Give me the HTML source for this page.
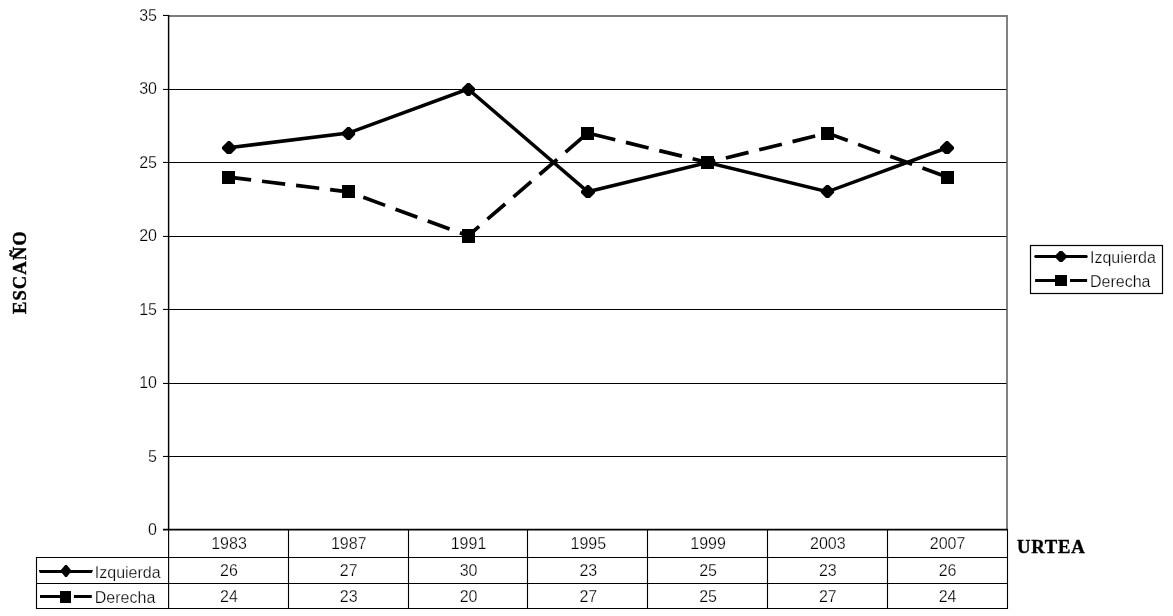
<!DOCTYPE html><html><head><meta charset="utf-8"><title>chart</title><style>html,body{margin:0;padding:0;background:#fff}svg{display:block;filter:grayscale(1)}text{font-family:"Liberation Sans",sans-serif;font-size:16px;fill:#000;stroke:#fff;stroke-width:0.25px}.t{stroke:#000;stroke-width:0.4px;font-family:"Liberation Serif",serif;font-weight:bold;font-size:18.7px}</style></head><body>
<svg width="1173" height="616" viewBox="0 0 1173 616">
<rect width="1173" height="616" fill="#fff"/>
<path d="M168.6 15.95H1007.0V529.5" fill="none" stroke="#7c7c7c" stroke-width="1.9"/>
<line x1="168.6" x2="1006.4" y1="456.47" y2="456.47" stroke="#000" stroke-width="1.1"/>
<line x1="168.6" x2="1006.4" y1="383.47" y2="383.47" stroke="#000" stroke-width="1.1"/>
<line x1="168.6" x2="1006.4" y1="309.47" y2="309.47" stroke="#000" stroke-width="1.1"/>
<line x1="168.6" x2="1006.4" y1="236.47" y2="236.47" stroke="#000" stroke-width="1.1"/>
<line x1="168.6" x2="1006.4" y1="162.47" y2="162.47" stroke="#000" stroke-width="1.1"/>
<line x1="168.6" x2="1006.4" y1="89.47" y2="89.47" stroke="#000" stroke-width="1.1"/>
<line x1="168.6" x2="168.6" y1="15.05" y2="529.5" stroke="#000" stroke-width="1.45"/>
<line x1="163.0" x2="1007.8" y1="529.6" y2="529.6" stroke="#000" stroke-width="1.6"/>
<line x1="163.0" x2="168.6" y1="456.47" y2="456.47" stroke="#000" stroke-width="1.1"/>
<line x1="163.0" x2="168.6" y1="383.47" y2="383.47" stroke="#000" stroke-width="1.1"/>
<line x1="163.0" x2="168.6" y1="309.47" y2="309.47" stroke="#000" stroke-width="1.1"/>
<line x1="163.0" x2="168.6" y1="236.47" y2="236.47" stroke="#000" stroke-width="1.1"/>
<line x1="163.0" x2="168.6" y1="162.47" y2="162.47" stroke="#000" stroke-width="1.1"/>
<line x1="163.0" x2="168.6" y1="89.47" y2="89.47" stroke="#000" stroke-width="1.1"/>
<line x1="163.0" x2="168.6" y1="15.47" y2="15.47" stroke="#000" stroke-width="1.1"/>
<text x="157" y="535.20" text-anchor="end">0</text>
<text x="157" y="462.20" text-anchor="end">5</text>
<text x="157" y="388.20" text-anchor="end">10</text>
<text x="157" y="315.20" text-anchor="end">15</text>
<text x="157" y="241.20" text-anchor="end">20</text>
<text x="157" y="168.20" text-anchor="end">25</text>
<text x="157" y="94.20" text-anchor="end">30</text>
<text x="157" y="21.20" text-anchor="end">35</text>
<path d="M36.5 557.5H1007.5M36.5 583.5H1007.5M36.5 608.5H1007.5M36.5 557.0V609.0M168.6 529.5V609.0M1007.5 529.5V609.0" fill="none" stroke="#000" stroke-width="1.12"/>
<line x1="288.50" x2="288.50" y1="529.5" y2="608.5" stroke="#000" stroke-width="1.12"/>
<line x1="408.50" x2="408.50" y1="529.5" y2="608.5" stroke="#000" stroke-width="1.12"/>
<line x1="527.50" x2="527.50" y1="529.5" y2="608.5" stroke="#000" stroke-width="1.12"/>
<line x1="647.50" x2="647.50" y1="529.5" y2="608.5" stroke="#000" stroke-width="1.12"/>
<line x1="767.50" x2="767.50" y1="529.5" y2="608.5" stroke="#000" stroke-width="1.12"/>
<line x1="887.50" x2="887.50" y1="529.5" y2="608.5" stroke="#000" stroke-width="1.12"/>
<text x="228.99" y="548.6" text-anchor="middle">1983</text>
<text x="228.99" y="576" text-anchor="middle">26</text>
<text x="228.99" y="601.5" text-anchor="middle">24</text>
<text x="348.76" y="548.6" text-anchor="middle">1987</text>
<text x="348.76" y="576" text-anchor="middle">27</text>
<text x="348.76" y="601.5" text-anchor="middle">23</text>
<text x="468.53" y="548.6" text-anchor="middle">1991</text>
<text x="468.53" y="576" text-anchor="middle">30</text>
<text x="468.53" y="601.5" text-anchor="middle">20</text>
<text x="588.30" y="548.6" text-anchor="middle">1995</text>
<text x="588.30" y="576" text-anchor="middle">23</text>
<text x="588.30" y="601.5" text-anchor="middle">27</text>
<text x="708.07" y="548.6" text-anchor="middle">1999</text>
<text x="708.07" y="576" text-anchor="middle">25</text>
<text x="708.07" y="601.5" text-anchor="middle">25</text>
<text x="827.84" y="548.6" text-anchor="middle">2003</text>
<text x="827.84" y="576" text-anchor="middle">23</text>
<text x="827.84" y="601.5" text-anchor="middle">27</text>
<text x="947.61" y="548.6" text-anchor="middle">2007</text>
<text x="947.61" y="576" text-anchor="middle">26</text>
<text x="947.61" y="601.5" text-anchor="middle">24</text>
<polyline points="228.49,147.75 348.26,133.06 468.03,89.01 587.80,191.79 707.57,162.43 827.34,191.79 947.11,147.75" fill="none" stroke="#000" stroke-width="3.5"/>
<polyline points="228.49,177.11 348.26,191.79 468.03,235.84 587.80,133.06 707.57,162.43 827.34,133.06 947.11,177.11" fill="none" stroke="#000" stroke-width="3.7" stroke-dasharray="23.3 11" stroke-dashoffset="0.5"/>
<path d="M228.00 141.00L230.00 141.00L236.00 147.00L236.00 149.00L231.00 154.00L227.00 154.00L222.00 149.00L222.00 147.00Z" fill="#000"/>
<path d="M347.30 127.00L349.70 127.00L355.10 132.30L355.10 134.70L350.00 140.00L347.00 140.00L341.90 134.70L341.90 132.30Z" fill="#000"/>
<path d="M467.30 83.00L469.70 83.00L475.10 88.30L475.10 90.70L470.00 96.00L467.00 96.00L461.90 90.70L461.90 88.30Z" fill="#000"/>
<path d="M587.00 185.00L589.00 185.00L595.00 191.00L595.00 193.00L590.00 198.00L586.00 198.00L581.00 193.00L581.00 191.00Z" fill="#000"/>
<path d="M706.30 156.00L708.70 156.00L714.10 161.30L714.10 163.70L709.00 169.00L706.00 169.00L700.90 163.70L700.90 161.30Z" fill="#000"/>
<path d="M826.30 185.00L828.70 185.00L834.10 190.30L834.10 192.70L829.00 198.00L826.00 198.00L820.90 192.70L820.90 190.30Z" fill="#000"/>
<path d="M946.00 141.00L948.00 141.00L954.00 147.00L954.00 149.00L949.00 154.00L945.00 154.00L940.00 149.00L940.00 147.00Z" fill="#000"/>
<rect x="222" y="171" width="13" height="13" fill="#000"/>
<rect x="342" y="185" width="13" height="13" fill="#000"/>
<rect x="462" y="229" width="13" height="14" fill="#000"/>
<rect x="581" y="127" width="13" height="13" fill="#000"/>
<rect x="701" y="156" width="13" height="13" fill="#000"/>
<rect x="821" y="127" width="13" height="13" fill="#000"/>
<rect x="941" y="171" width="13" height="13" fill="#000"/>
<path d="M38.8 570H92.9L91.9 573H39.8Z" fill="#000"/>
<path d="M65.20 565.00L66.80 565.00L71.20 570.20L71.20 571.60L66.80 577.00L65.20 577.00L60.70 571.60L60.70 570.20Z" fill="#000"/>
<path d="M40 596.55H61M73.9 596.55H91.8" stroke="#000" stroke-width="3.1"/><rect x="60" y="591" width="11" height="12" fill="#000"/>
<text x="94.8" y="578">Izquierda</text><text x="94.8" y="602.6">Derecha</text>
<rect x="1030.5" y="245.5" width="132" height="48" fill="#fff" stroke="#000" stroke-width="1.2"/>
<path d="M1034.1 256.5L1035 255H1087L1087.9 256.5L1087 258H1035Z" fill="#000"/>
<path d="M1059.70 250.90L1062.30 250.90L1066.20 255.00L1066.20 258.00L1062.30 262.10L1059.70 262.10L1055.80 258.00L1055.80 255.00Z" fill="#000"/>
<path d="M1035.1 280.5H1056M1070 280.5H1087.1" stroke="#000" stroke-width="3.1"/><rect x="1055" y="275" width="12" height="11" fill="#000"/>
<text x="1090" y="263">Izquierda</text><text x="1090" y="287.1">Derecha</text>
<text class="t" x="1017" y="552.5" letter-spacing="0.75">URTEA</text>
<text class="t" transform="translate(26.4,314) rotate(-90)" letter-spacing="1">ESCAÑO</text>
</svg></body></html>
